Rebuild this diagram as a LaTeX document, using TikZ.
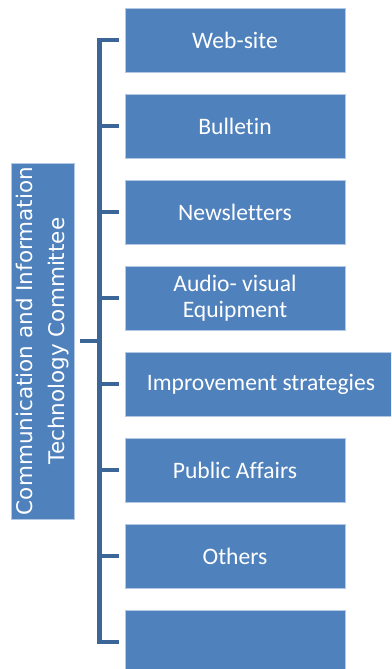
\documentclass[tikz,border=0pt]{standalone}
\usepackage{fontspec}
\setmainfont[Ligatures=NoCommon]{Carlito}
\newfontfamily\labelfont{DejaVu Sans}
\definecolor{boxblue}{HTML}{4F81BD}
\definecolor{boxedge}{HTML}{B3C8E4}
\definecolor{linkblue}{HTML}{3D6698}
\begin{document}
\begin{tikzpicture}[x=1pt,y=-1pt,
  item/.style={draw=boxedge, line width=0.8pt, fill=boxblue, text=white,
    minimum width=220pt, minimum height=64pt, inner sep=0pt, align=center,
    font=\fontsize{23.6}{26}\selectfont},
  head/.style={draw=boxedge, line width=0.8pt, fill=boxblue, text=white,
    minimum width=356pt, minimum height=63pt, inner sep=0pt, align=center,
    rotate=90, font=\labelfont\fontsize{21.5}{32}\selectfont},
  conn/.style={draw=linkblue, line width=4.5pt, line cap=butt}]
\useasboundingbox (0,0) rectangle (391,669);
\clip (0,0) rectangle (391,669);
% committee heading
\node[head] (com) at (42.5,341) {Communication and Information\\Technology Committee};
% sub-items
\node[item] (b1) at (235,40) {Web-site};
\node[item] (b2) at (235,126) {Bulletin};
\node[item] (b3) at (235,212) {Newsletters};
\node[item] (b4) at (235,298) {Audio- visual\\Equipment};
\node[item, minimum width=272pt] (b5) at (261,384) {Improvement strategies};
\node[item] (b6) at (235,470) {Public Affairs};
\node[item] (b7) at (235,556) {Others};
\node[item] (b8) at (235,642) {};
% bracket
\draw[conn] ([xshift=-6pt]b1.west) -| ([xshift=-25pt]b8.west) -- ([xshift=-6pt]b8.west);
\foreach \b in {b2,b3,b4,b5,b6,b7}
  \draw[conn] ([xshift=-6pt]\b.west) -- ++(-21,0);
\draw[conn] ([xshift=6pt]com.south) -- ++(22,0);
\end{tikzpicture}
\end{document}
